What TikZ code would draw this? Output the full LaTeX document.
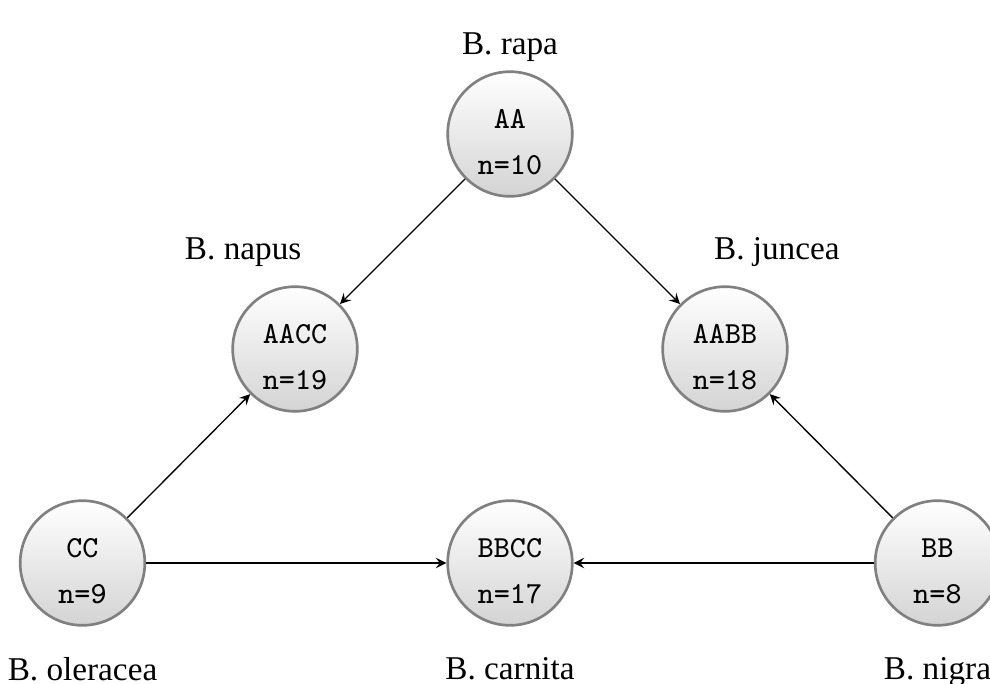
\documentclass[tikz,border=0pt]{standalone}
\usepackage{fontspec}
\setmainfont{Liberation Serif}
\usepackage{tikz}
\usetikzlibrary{positioning}

\begin{document}
\begin{tikzpicture}[x=0.01058cm, y=-0.01058cm,
                        genome/.style={circle, draw=gray, line width=0.8pt,
                            top color=white, bottom color=black!17,
                            minimum size=37.5pt, inner sep=0pt, align=center,
                            font=\fontsize{9.2}{13.9}\selectfont\ttfamily,
                            text height=24.5pt},
                        cross/.style={draw, -stealth}]

        \useasboundingbox (0,0) rectangle (990,684);

        % Diploid genomes
        \node[genome] (aa) at (510,134) {AA\\n=10};
        \node[genome] (cc) at (82.5,563) {CC\\n=9};
        \node[genome] (bb) at (937.5,563) {BB\\n=8};

        % Amphidiploid genomes
        \node[genome] (aacc) at (295,349) {AACC\\n=19};
        \node[genome] (aabb) at (725,349) {AABB\\n=18};
        \node[genome] (bbcc) at (510,563) {BBCC\\n=17};

        % Species names
        \node[above=-1pt of aa] (rapa) {B. rapa};
        \node[above=2pt of aacc, xshift=-15.6pt] (napus) {B. napus};
        \node[above=2pt of aabb, xshift=15.6pt] (juncea) {B. juncea};
        \node[below=5.8pt of cc] (oleracea) {B. oleracea};
        \node[below=5.8pt of bbcc] (carnita) {B. carnita};
        \node[below=5.8pt of bb] (nigra) {B. nigra};

        % Crosses
        \draw[cross] (aa) -- (aacc);
        \draw[cross] (aa) -- (aabb);
        \draw[cross] (cc) -- (aacc);
        \draw[cross] (cc) -- (bbcc);
        \draw[cross] (bb) -- (bbcc);
        \draw[cross] (bb) -- (aabb);

    \end{tikzpicture}
\end{document}
